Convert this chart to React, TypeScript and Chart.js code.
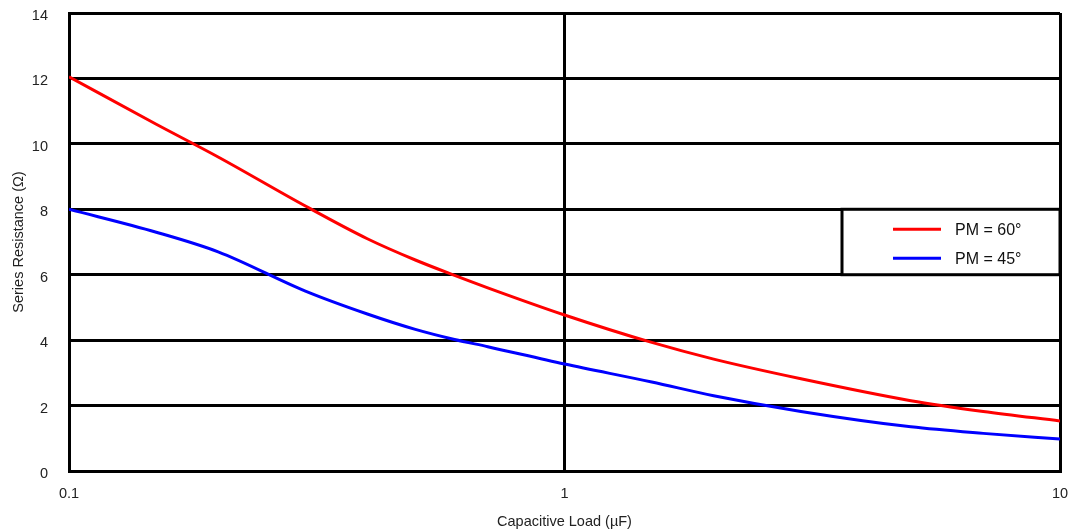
import React, { useEffect, useRef } from "react";
import { Chart, registerables } from "chart.js";

Chart.register(...registerables);

const capLoad = [0.1, 0.15, 0.2, 0.3, 0.4, 0.5, 0.6, 0.7, 1, 1.5, 2, 3, 5, 7, 10];
const pm60 = [12.05, 10.6, 9.6, 8.1, 7.1, 6.45, 5.98, 5.6, 4.77, 3.93, 3.42, 2.82, 2.15, 1.82, 1.53];
const pm45 = [8.0, 7.3, 6.7, 5.5, 4.8, 4.33, 4.02, 3.8, 3.27, 2.72, 2.3, 1.82, 1.35, 1.15, 0.98];
const xTicks = [0.1, 1, 10];
const seriesLabels = ["PM = 60°", "PM = 45°"];
const seriesColors = ["#ff0000", "#0000ff"];

const FONT = "'Liberation Sans', Arial, sans-serif";

const legendBox = {
  id: "legendBox",
  afterDatasetsDraw(chart: any) {
    const { ctx, chartArea, scales } = chart;
    const y = scales.y;
    const top = y.getPixelForValue(8);
    const bottom = y.getPixelForValue(6);
    const right = chartArea.right;
    const left = right - 218;
    ctx.save();
    ctx.fillStyle = "#fff";
    ctx.fillRect(left, top, right - left, bottom - top);
    ctx.strokeStyle = "#000";
    ctx.lineWidth = 3;
    ctx.strokeRect(left, top, right - left, bottom - top);
    const rows = [top + 20, top + 49];
    seriesLabels.forEach((lab, i) => {
      ctx.strokeStyle = seriesColors[i];
      ctx.lineWidth = 3;
      ctx.beginPath();
      ctx.moveTo(left + 51, rows[i]);
      ctx.lineTo(left + 99, rows[i]);
      ctx.stroke();
      ctx.fillStyle = "#111";
      ctx.font = `16px ${FONT}`;
      ctx.textBaseline = "middle";
      ctx.textAlign = "left";
      ctx.fillText(lab, left + 113, rows[i] + 1);
    });
    ctx.restore();
  },
};

export default function App() {
  const ref = useRef<HTMLCanvasElement>(null);
  useEffect(() => {
    if (!ref.current) return;
    const chart = new Chart(ref.current, {
      type: "line",
      data: {
        datasets: [
          {
            label: seriesLabels[0],
            data: capLoad.map((x, i) => ({ x, y: pm60[i] })),
            borderColor: seriesColors[0],
            borderWidth: 3,
            pointRadius: 0,
            cubicInterpolationMode: "monotone",
          },
          {
            label: seriesLabels[1],
            data: capLoad.map((x, i) => ({ x, y: pm45[i] })),
            borderColor: seriesColors[1],
            borderWidth: 3,
            pointRadius: 0,
            cubicInterpolationMode: "monotone",
          },
        ],
      },
      options: {
        animation: false,
        responsive: false,
        layout: { padding: { left: 0, right: 13, top: 13, bottom: 0 } },
        plugins: { legend: { display: false }, tooltip: { enabled: false } },
        scales: {
          x: {
            type: "logarithmic",
            min: 0.1,
            max: 10,
            afterBuildTicks(scale: any) {
              scale.ticks = xTicks.map((v) => ({ value: v }));
            },
            afterFit(scale: any) {
              scale.height = 60;
              scale.paddingLeft = 0;
              scale.paddingRight = 0;
            },
            ticks: {
              callback: (v: any) => String(v),
              color: "#222",
              font: { family: FONT, size: 14.5 },
              padding: 14,
              maxRotation: 0,
            },
            grid: { color: "#000", lineWidth: 3, drawTicks: false },
            border: { color: "#000", width: 3 },
            title: {
              display: true,
              text: "Capacitive Load (µF)",
              color: "#222",
              font: { family: FONT, size: 14.5 },
              padding: { top: 0, bottom: 0 },
            },
          },
          y: {
            min: 0,
            max: 14,
            afterFit(scale: any) {
              scale.width = 69;
              scale.paddingTop = 0;
              scale.paddingBottom = 0;
            },
            ticks: {
              stepSize: 2,
              color: "#222",
              font: { family: FONT, size: 14.5 },
              padding: 21,
              labelOffset: 3,
            },
            grid: { color: "#000", lineWidth: 3, drawTicks: false },
            border: { color: "#000", width: 3 },
            title: {
              display: true,
              text: "Series Resistance (Ω)",
              color: "#222",
              font: { family: FONT, size: 14.5 },
              padding: { top: 10, bottom: 0 },
            },
          },
        },
      },
      plugins: [legendBox],
    } as any);
    return () => chart.destroy();
  }, []);
  return (
    <div style={{ position: "fixed", left: 0, top: 0, width: 1073, height: 531, background: "#fff" }}>
      <canvas ref={ref} width={1073} height={531} />
    </div>
  );
}
